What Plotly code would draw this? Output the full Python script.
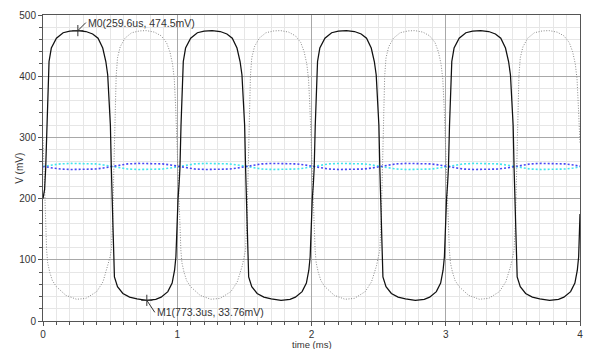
import plotly.graph_objects as go

# ---------------- data (time in ms, voltage in mV) ----------------
black_t = [
    0.000, 0.012, 0.020, 0.028, 0.036, 0.045, 0.062, 0.100, 0.150, 0.200, 0.2596, 0.320, 0.370, 0.410, 0.445, 0.468, 0.482, 0.494,
    0.502, 0.509, 0.516, 0.524, 0.532, 0.555, 0.595, 0.645, 0.700, 0.7733, 0.840, 0.880, 0.930, 0.962, 0.980, 0.990, 0.998,
    1.006, 1.014, 1.020, 1.028, 1.036, 1.045, 1.062, 1.100, 1.150, 1.200, 1.2596, 1.320, 1.370, 1.410, 1.445, 1.468, 1.482, 1.494,
    1.502, 1.509, 1.516, 1.524, 1.532, 1.555, 1.595, 1.645, 1.700, 1.7733, 1.840, 1.880, 1.930, 1.962, 1.980, 1.990, 1.998,
    2.006, 2.014, 2.020, 2.028, 2.036, 2.045, 2.062, 2.100, 2.150, 2.200, 2.2596, 2.320, 2.370, 2.410, 2.445, 2.468, 2.482, 2.494,
    2.502, 2.509, 2.516, 2.524, 2.532, 2.555, 2.595, 2.645, 2.700, 2.7733, 2.840, 2.880, 2.930, 2.962, 2.980, 2.990, 2.998,
    3.006, 3.014, 3.020, 3.028, 3.036, 3.045, 3.062, 3.100, 3.150, 3.200, 3.2596, 3.320, 3.370, 3.410, 3.445, 3.468, 3.482, 3.494,
    3.502, 3.509, 3.516, 3.524, 3.532, 3.555, 3.595, 3.645, 3.700, 3.7733, 3.840, 3.880, 3.930, 3.962, 3.980, 3.990, 3.998,
    4.000,
]
black_v = [
    200, 215, 250, 320, 391, 424, 446, 462, 471, 473.5, 474.5, 473, 469, 462, 446, 424, 402, 358,
    320, 250, 181, 100, 72, 56, 45, 39, 36, 33.76, 35.5, 39, 48, 62, 83, 105, 160,
    200, 225, 250, 320, 391, 424, 446, 462, 471, 473.5, 474.5, 473, 469, 462, 446, 424, 402, 358,
    320, 250, 181, 100, 72, 56, 45, 39, 36, 33.76, 35.5, 39, 48, 62, 83, 105, 160,
    200, 225, 250, 320, 391, 424, 446, 462, 471, 473.5, 474.5, 473, 469, 462, 446, 424, 402, 358,
    320, 250, 181, 100, 72, 56, 45, 39, 36, 33.76, 35.5, 39, 48, 62, 83, 105, 160,
    200, 225, 250, 320, 391, 424, 446, 462, 471, 473.5, 474.5, 473, 469, 462, 446, 424, 402, 358,
    320, 250, 181, 100, 72, 56, 45, 39, 36, 33.76, 35.5, 39, 48, 62, 83, 105, 160,
    175,
]

gray_t = [
    0.000, 0.003, 0.010, 0.018, 0.027, 0.035, 0.050, 0.070, 0.100, 0.170, 0.250, 0.320, 0.400, 0.447, 0.484, 0.500, 0.509, 0.520,
    0.528, 0.536, 0.545, 0.555, 0.575, 0.610, 0.660, 0.720, 0.770, 0.830, 0.880, 0.920, 0.945, 0.965, 0.978, 0.988, 0.995,
    1.000, 1.003, 1.010, 1.018, 1.027, 1.035, 1.050, 1.070, 1.100, 1.170, 1.250, 1.320, 1.400, 1.447, 1.484, 1.500, 1.509, 1.520,
    1.528, 1.536, 1.545, 1.555, 1.575, 1.610, 1.660, 1.720, 1.770, 1.830, 1.880, 1.920, 1.945, 1.965, 1.978, 1.988, 1.995,
    2.000, 2.003, 2.010, 2.018, 2.027, 2.035, 2.050, 2.070, 2.100, 2.170, 2.250, 2.320, 2.400, 2.447, 2.484, 2.500, 2.509, 2.520,
    2.528, 2.536, 2.545, 2.555, 2.575, 2.610, 2.660, 2.720, 2.770, 2.830, 2.880, 2.920, 2.945, 2.965, 2.978, 2.988, 2.995,
    3.000, 3.003, 3.010, 3.018, 3.027, 3.035, 3.050, 3.070, 3.100, 3.170, 3.250, 3.320, 3.400, 3.447, 3.484, 3.500, 3.509, 3.520,
    3.528, 3.536, 3.545, 3.555, 3.575, 3.610, 3.660, 3.720, 3.770, 3.830, 3.880, 3.920, 3.945, 3.965, 3.978, 3.988, 3.995,
    4.000,
]
gray_v = [
    300, 280, 230, 170, 116, 95, 80, 66, 56, 42, 35.5, 37, 48, 64, 90, 105, 116, 170,
    250, 345, 400, 430, 448, 462, 471, 474, 474.5, 472, 466, 455, 440, 420, 395, 350, 300,
    290, 280, 230, 170, 116, 95, 80, 66, 56, 42, 35.5, 37, 48, 64, 90, 105, 116, 170,
    250, 345, 400, 430, 448, 462, 471, 474, 474.5, 472, 466, 455, 440, 420, 395, 350, 300,
    290, 280, 230, 170, 116, 95, 80, 66, 56, 42, 35.5, 37, 48, 64, 90, 105, 116, 170,
    250, 345, 400, 430, 448, 462, 471, 474, 474.5, 472, 466, 455, 440, 420, 395, 350, 300,
    290, 280, 230, 170, 116, 95, 80, 66, 56, 42, 35.5, 37, 48, 64, 90, 105, 116, 170,
    250, 345, 400, 430, 448, 462, 471, 474, 474.5, 472, 466, 455, 440, 420, 395, 350, 300,
    290,
]

mid_t = [
    0.00, 0.01, 0.07, 0.13, 0.21, 0.31, 0.39, 0.45, 0.51, 0.57, 0.63, 0.71, 0.81, 0.89, 0.95,
    1.01, 1.07, 1.13, 1.21, 1.31, 1.39, 1.45, 1.51, 1.57, 1.63, 1.71, 1.81, 1.89, 1.95,
    2.01, 2.07, 2.13, 2.21, 2.31, 2.39, 2.45, 2.51, 2.57, 2.63, 2.71, 2.81, 2.89, 2.95,
    3.01, 3.07, 3.13, 3.21, 3.31, 3.39, 3.45, 3.51, 3.57, 3.63, 3.71, 3.81, 3.89, 3.95,
    4.00,
]
blue_v = [
    251.5, 252.5, 250, 248.3, 247.6, 247.6, 248.3, 250, 252.5, 255, 256.7, 257.5, 257.5, 256.7, 255,
    252.5, 250, 248.3, 247.6, 247.6, 248.3, 250, 252.5, 255, 256.7, 257.5, 257.5, 256.7, 255,
    252.5, 250, 248.3, 247.6, 247.6, 248.3, 250, 252.5, 255, 256.7, 257.5, 257.5, 256.7, 255,
    252.5, 250, 248.3, 247.6, 247.6, 248.3, 250, 252.5, 255, 256.7, 257.5, 257.5, 256.7, 255,
    253,
]
cyan_v = [
    253.5, 252.5, 255, 256.7, 257.5, 257.5, 256.7, 255, 252.5, 250, 248.3, 247.6, 247.6, 248.3, 250,
    252.5, 255, 256.7, 257.5, 257.5, 256.7, 255, 252.5, 250, 248.3, 247.6, 247.6, 248.3, 250,
    252.5, 255, 256.7, 257.5, 257.5, 256.7, 255, 252.5, 250, 248.3, 247.6, 247.6, 248.3, 250,
    252.5, 255, 256.7, 257.5, 257.5, 256.7, 255, 252.5, 250, 248.3, 247.6, 247.6, 248.3, 250,
    252,
]

marker_t = [0.2596, 0.7733]
marker_v = [474.5, 33.76]
marker_labels = ["M0(259.6us, 474.5mV)", "M1(773.3us, 33.76mV)"]

x_ticks = [0, 1, 2, 3, 4]
y_ticks = [0, 100, 200, 300, 400, 500]

# ---------------- figure ----------------
FONT = "Liberation Sans, DejaVu Sans, sans-serif"
fig = go.Figure()

fig.add_trace(go.Scatter(x=mid_t, y=cyan_v, mode="lines",
                         line=dict(color="#3ee6ee", width=1.6, dash="2px,2px")))
fig.add_trace(go.Scatter(x=mid_t, y=blue_v, mode="lines",
                         line=dict(color="#4646f6", width=1.6, dash="2px,2px")))
fig.add_trace(go.Scatter(x=gray_t, y=gray_v, mode="lines",
                         line=dict(color="#8a8a8a", width=1, dash="1px,1.6px")))
fig.add_trace(go.Scatter(x=black_t, y=black_v, mode="lines",
                         line=dict(color="#111111", width=1.25)))
fig.add_trace(go.Scatter(x=marker_t, y=marker_v, mode="markers",
                         marker=dict(symbol="cross-thin", size=8,
                                     line=dict(color="#333333", width=1))))

for t, v, lab, ax, ay in zip(marker_t, marker_v, marker_labels, [8, 8], [-8, 12]):
    fig.add_annotation(x=t, y=v, text=lab, showarrow=True, arrowhead=0,
                       arrowwidth=1, arrowcolor="#333333", ax=ax, ay=ay,
                       xanchor="left", yanchor="middle",
                       font=dict(family=FONT, size=10.5, color="#333333"))

fig.add_annotation(text="V (mV)", xref="paper", yref="paper", x=-0.045, y=0.5,
                   textangle=-90, showarrow=False, xanchor="center", yanchor="middle",
                   font=dict(family=FONT, size=10, color="#333333"))
fig.add_annotation(text="time (ms)", xref="paper", yref="paper", x=0.5, y=-0.0545,
                   showarrow=False, xanchor="center", yanchor="top",
                   borderpad=0,
                   font=dict(family=FONT, size=9.5, color="#333333"))

axis_common = dict(
    showline=True, linecolor="#555555", linewidth=1, mirror=True,
    ticks="outside", ticklen=4, tickcolor="#555555",
    showgrid=True, gridcolor="#a8a8a8", gridwidth=1, zeroline=False,
    tickfont=dict(family=FONT, size=10, color="#333333"),
)
fig.update_xaxes(range=[0, 4], tickvals=x_ticks,
                 minor=dict(dtick=0.1, ticks="outside", ticklen=3, tickcolor="#555555",
                            showgrid=True, gridcolor="#e6e6e6", gridwidth=1),
                 **axis_common)
fig.update_yaxes(range=[0, 500], tickvals=y_ticks,
                 minor=dict(dtick=20, ticks="outside", ticklen=3, tickcolor="#555555",
                            showgrid=True, gridcolor="#e6e6e6", gridwidth=1),
                 **axis_common)

fig.update_layout(
    width=589, height=349,
    margin=dict(l=43, r=6, t=15, b=28),
    paper_bgcolor="white", plot_bgcolor="white",
    showlegend=False,
)

fig.write_html("out.html")
